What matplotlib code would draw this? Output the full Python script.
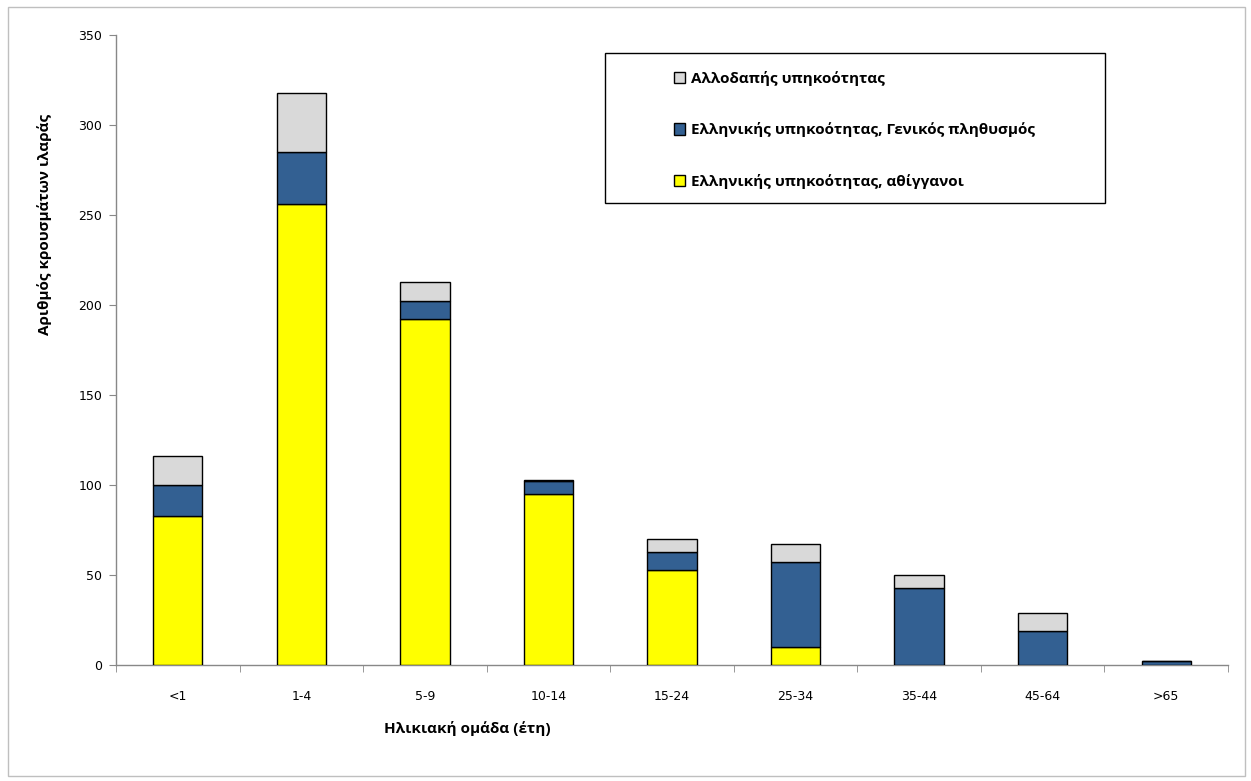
import matplotlib.pyplot as plt
import numpy as np
from matplotlib.patches import Rectangle, Patch

# Data
age_groups = ['<1', '1-4', '5-9', '10-14', '15-24', '25-34', '35-44', '45-64', '>65']
roma = [83, 256, 192, 95, 53, 10, 0, 0, 0]           # Ελληνικής υπηκοότητας, αθίγγανοι
general = [17, 29, 10, 7, 10, 47, 43, 19, 2]         # Ελληνικής υπηκοότητας, Γενικός πληθυσμός
foreign = [16, 33, 11, 1, 7, 10, 7, 10, 0]           # Αλλοδαπής υπηκοότητας

labels = ['Ελληνικής υπηκοότητας, αθίγγανοι',
          'Ελληνικής υπηκοότητας, Γενικός πληθυσμός',
          'Αλλοδαπής υπηκοότητας']
colors = ['#ffff00', '#336092', '#d9d9d9']

W, H = 1251, 781
fig = plt.figure(figsize=(W / 100, H / 100), dpi=100)
ax = fig.add_axes([116 / W, 1 - 665 / H, (1228 - 116) / W, (665 - 35) / H])

x = np.arange(len(age_groups))
bottom = np.zeros(len(age_groups))
for vals, col in zip([roma, general, foreign], colors):
    v = np.array(vals)
    ax.bar(x, v, width=0.4, bottom=bottom, color=col, edgecolor='black',
           linewidth=1.0, zorder=3)
    bottom += v

ax.set_xlim(-0.5, len(age_groups) - 0.5)
ax.set_ylim(0, 350)
ax.set_yticks(np.arange(0, 351, 50))
ax.set_xticks(x)
ax.set_xticklabels(age_groups, fontsize=9, family='DejaVu Sans')
ax.tick_params(axis='x', length=0, pad=18)
ax.set_xticks(np.arange(-0.5, len(age_groups)), minor=True)
ax.tick_params(axis='x', which='minor', length=5, color='#888888')
ax.tick_params(axis='y', length=5, color='#888888', labelsize=9, pad=5)
for lab in ax.get_yticklabels():
    lab.set_family('DejaVu Sans')

for s in ['top', 'right']:
    ax.spines[s].set_visible(False)
for s in ['left', 'bottom']:
    ax.spines[s].set_color('#888888')
    ax.spines[s].set_linewidth(1.0)

fig.text(45 / W, 1 - 224 / H, 'Αριθμός κρουσμάτων ιλαράς', rotation=90,
         ha='center', va='center', fontsize=11, fontweight='bold', family='Open Sans')
fig.text(467 / W, 1 - 729 / H, 'Ηλικιακή ομάδα (έτη)', ha='center', va='center',
         fontsize=11, fontweight='bold', family='Open Sans')

# outer chart border
fig.add_artist(Rectangle((8 / W, 5 / H), (1245 - 8) / W, (774 - 5) / H,
                         transform=fig.transFigure, fill=False,
                         edgecolor='#bfbfbf', linewidth=1.0))

# legend box
fig.add_artist(Rectangle((605 / W, 1 - 203 / H), 500 / W, 150 / H,
                         transform=fig.transFigure, fill=False,
                         edgecolor='black', linewidth=1.0))
handles = [Patch(facecolor=c, edgecolor='black', linewidth=1.0) for c in colors[::-1]]
fig.legend(handles, labels[::-1], loc='upper left',
           bbox_to_anchor=(660 / W, 1 - 57 / H), frameon=False,
           handlelength=0.75, handleheight=0.75, handletextpad=0.4,
           labelspacing=2.4, prop={'family': 'Open Sans', 'weight': 'bold', 'size': 11})

fig.savefig('out.png', dpi=100)
